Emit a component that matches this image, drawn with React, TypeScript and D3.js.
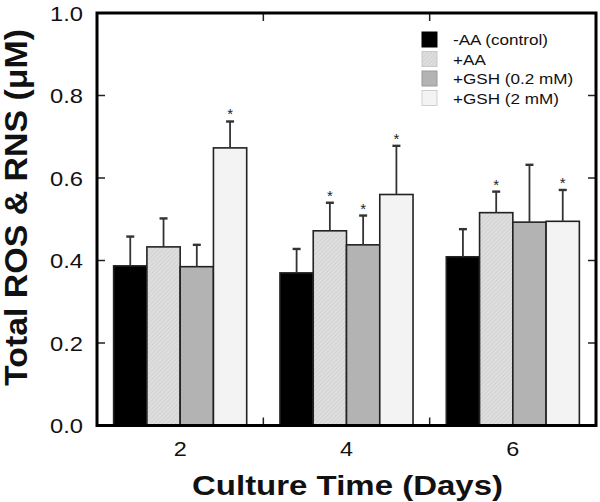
import React from "react";
import * as d3 from "d3";

const days = [2, 4, 6];
const seriesNames = ["-AA (control)", "+AA", "+GSH (0.2 mM)", "+GSH (2 mM)"];
const ctrlMean = [0.387, 0.37, 0.409];
const aaMean = [0.433, 0.472, 0.516];
const gsh02Mean = [0.385, 0.438, 0.493];
const gsh2Mean = [0.673, 0.56, 0.495];
const ctrlErr = [0.071, 0.058, 0.067];
const aaErr = [0.069, 0.068, 0.051];
const gsh02Err = [0.053, 0.071, 0.139];
const gsh2Err = [0.064, 0.118, 0.076];
const ctrlStar = [false, false, false];
const aaStar = [false, true, true];
const gsh02Star = [false, true, false];
const gsh2Star = [true, true, true];
const yTicks = [0, 0.2, 0.4, 0.6, 0.8, 1.0];
const xMinorTicks = [3, 5];

const means = [ctrlMean, aaMean, gsh02Mean, gsh2Mean];
const errs = [ctrlErr, aaErr, gsh02Err, gsh2Err];
const stars = [ctrlStar, aaStar, gsh02Star, gsh2Star];
const fills = ["#000000", "url(#hatchAA)", "#b3b3b3", "#f3f3f3"];
const legendStroke = ["#000", "#c8c8c8", "#9a9a9a", "#cfcfcf"];

const FONT = "'Liberation Sans', Arial, Helvetica, sans-serif";

export default function App() {
  const left = 97, right = 596, top = 13, bottom = 425.5;
  const x = d3.scaleLinear().domain([1, 7]).range([left, right]);
  const y = d3.scaleLinear().domain([0, 1]).range([bottom, top]);
  const barW = 0.4;
  const offsets = [-0.8, -0.4, 0, 0.4];

  return (
    <svg width={600} height={502} style={{ position: "absolute", left: 0, top: 0, background: "#fff" }}>
      <defs>
        <pattern id="hatchAA" width={3} height={3} patternUnits="userSpaceOnUse" patternTransform="rotate(45)">
          <rect width={3} height={3} fill="#dedede" />
          <line x1={0} y1={0} x2={0} y2={3} stroke="#c6c6c6" strokeWidth={1} />
        </pattern>
      </defs>
      <rect x={0} y={0} width={600} height={502} fill="#fff" />

      {/* bars */}
      {means.map((s, si) =>
        s.map((v, di) => {
          const x0 = x(days[di] + offsets[si]);
          const x1 = x(days[di] + offsets[si] + barW);
          return (
            <rect
              key={`b${si}-${di}`}
              x={x0}
              y={y(v)}
              width={x1 - x0}
              height={y(0) - y(v)}
              fill={fills[si]}
              stroke="#222"
              strokeWidth={1.6}
            />
          );
        })
      )}

      {/* error bars */}
      {means.map((s, si) =>
        s.map((v, di) => {
          const cx = x(days[di] + offsets[si] + barW / 2);
          const yt = y(v + errs[si][di]);
          return (
            <g key={`e${si}-${di}`} stroke="#333">
              <line x1={cx} x2={cx} y1={y(v)} y2={yt} strokeWidth={1.8} />
              <line x1={cx - 4} x2={cx + 4} y1={yt} y2={yt} strokeWidth={2.4} />
            </g>
          );
        })
      )}

      {/* stars */}
      {means.map((s, si) =>
        s.map((v, di) =>
          stars[si][di] ? (
            <text
              key={`s${si}-${di}`}
              x={x(days[di] + offsets[si] + barW / 2)}
              y={y(v + errs[si][di]) - 2}
              textAnchor="middle"
              fontFamily={FONT}
              fontSize={15}
              fill="#222"
            >
              *
            </text>
          ) : null
        )
      )}

      {/* y ticks inward, left and right */}
      {yTicks.slice(1, -1).map((t) => (
        <g key={`yt${t}`} stroke="#222" strokeWidth={1.5}>
          <line x1={left} x2={left + 8} y1={y(t)} y2={y(t)} />
          <line x1={right} x2={right - 8} y1={y(t)} y2={y(t)} />
        </g>
      ))}
      {/* x minor ticks inward, top and bottom */}
      {xMinorTicks.map((t) => (
        <g key={`xt${t}`} stroke="#222" strokeWidth={1.5}>
          <line x1={x(t)} x2={x(t)} y1={bottom} y2={bottom - 8} />
          <line x1={x(t)} x2={x(t)} y1={top} y2={top + 8} />
        </g>
      ))}

      {/* frame */}
      <rect x={left} y={top} width={right - left} height={bottom - top} fill="none" stroke="#000" strokeWidth={3} />

      {/* y tick labels */}
      {yTicks.map((t) => (
        <text
          key={`yl${t}`}
          x={83}
          y={y(t) + 7.5}
          textAnchor="end"
          fontFamily={FONT}
          fontSize={21}
          textLength={33}
          lengthAdjust="spacingAndGlyphs"
          fill="#111"
        >
          {t.toFixed(1)}
        </text>
      ))}

      {/* x tick labels */}
      {days.map((d) => (
        <text
          key={`xl${d}`}
          x={x(d)}
          y={456}
          textAnchor="middle"
          fontFamily={FONT}
          fontSize={20}
          textLength={13}
          lengthAdjust="spacingAndGlyphs"
          fill="#111"
        >
          {d}
        </text>
      ))}

      {/* axis titles */}
      <text
        x={347.5}
        y={495}
        textAnchor="middle"
        fontFamily={FONT}
        fontWeight="bold"
        fontSize={28}
        textLength={311}
        lengthAdjust="spacingAndGlyphs"
        fill="#111"
      >
        Culture Time (Days)
      </text>
      <text
        transform={`translate(27,207.5) rotate(-90)`}
        textAnchor="middle"
        fontFamily={FONT}
        fontWeight="bold"
        fontSize={31}
        textLength={357}
        lengthAdjust="spacingAndGlyphs"
        fill="#111"
      >
        Total ROS &amp; RNS (μM)
      </text>

      {/* legend */}
      {seriesNames.map((n, i) => {
        const ly = 32 + i * 19.5;
        return (
          <g key={`lg${i}`}>
            <rect x={422} y={ly} width={15} height={15} fill={fills[i]} stroke={legendStroke[i]} strokeWidth={1} />
            <text
              transform={`translate(453,${ly + 13}) scale(1.14,1)`}
              fontFamily={FONT}
              fontSize={15}
              fill="#111"
            >
              {n}
            </text>
          </g>
        );
      })}
    </svg>
  );
}
